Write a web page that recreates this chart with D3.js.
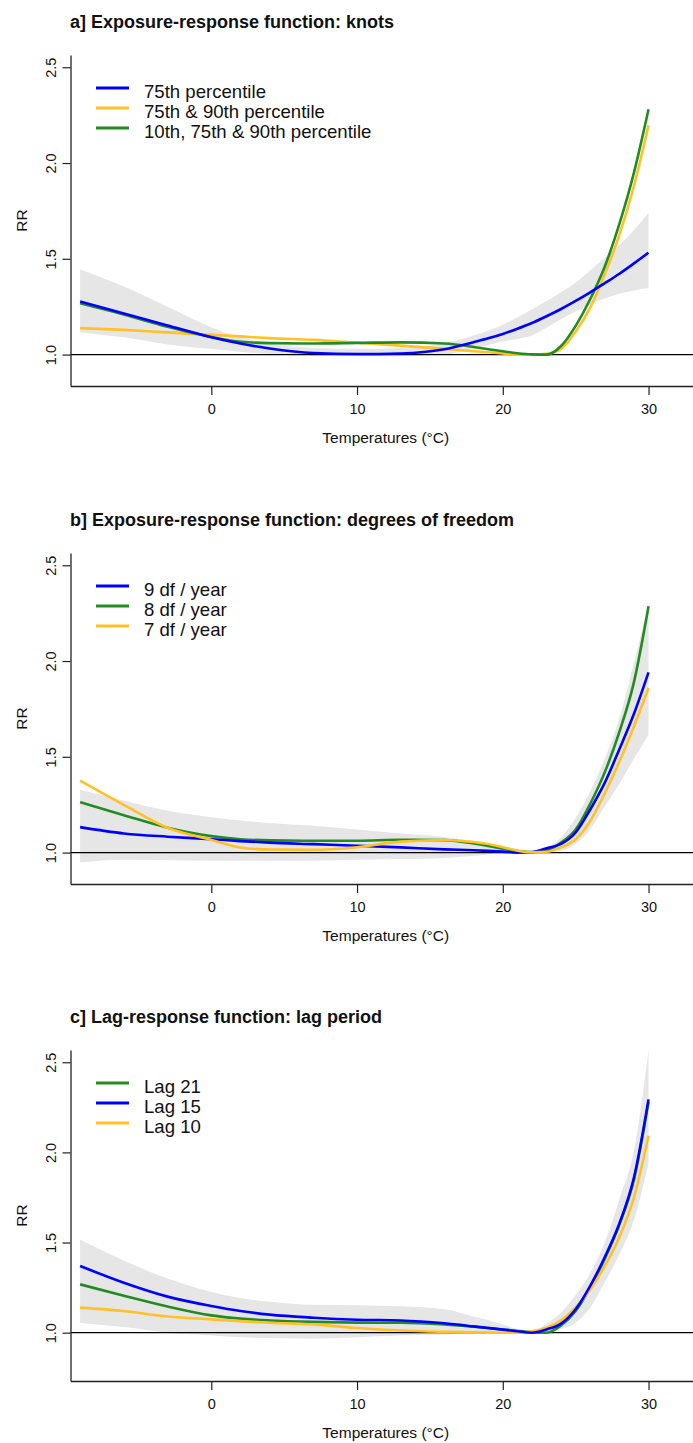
<!DOCTYPE html>
<html>
<head>
  <meta charset="utf-8">
  <script src="https://d3js.org/d3.v7.min.js"></script>
  <style>
    body { margin: 0; background: #fff; }
    svg text { font-family: "Liberation Sans", Arial, sans-serif; fill: #111; }
    .axis .domain { stroke: #222; stroke-width: 1.3; }
    .axis line { stroke: #222; stroke-width: 1.2; }
  </style>
</head>
<body>
<svg id="svg" width="693" height="1443"></svg>
<script>
// ---------- data ----------
const temps = [-9, -6, -3, 0, 2, 4, 7, 10, 13, 16, 18, 19, 20, 21, 22, 23, 24, 25, 26, 27, 28, 29, 30];
const xTicks = [0, 10, 20, 30];
const yTicks = [1.0, 1.5, 2.0, 2.5];

// a] knots
const aBlue75 = [1.277, 1.215, 1.152, 1.091, 1.058, 1.032, 1.008, 1.003, 1.006, 1.028, 1.065, 1.085, 1.108, 1.135, 1.165, 1.2, 1.238, 1.28, 1.325, 1.373, 1.422, 1.476, 1.532];
const aOrange7590 = [1.138, 1.129, 1.116, 1.103, 1.095, 1.086, 1.077, 1.062, 1.047, 1.03, 1.018, 1.012, 1.006, 1.0, 1.0, 1.004, 1.03, 1.12, 1.245, 1.42, 1.625, 1.88, 2.197];
const aGreen107590 = [1.268, 1.209, 1.145, 1.092, 1.067, 1.06, 1.058, 1.061, 1.064, 1.058, 1.04, 1.028, 1.017, 1.007, 1.001, 1.0, 1.045, 1.15, 1.29, 1.46, 1.682, 1.95, 2.281];
const aCiUpper = [1.444, 1.355, 1.25, 1.143, 1.09, 1.055, 1.035, 1.03, 1.035, 1.06, 1.1, 1.125, 1.156, 1.195, 1.236, 1.28, 1.325, 1.375, 1.44, 1.505, 1.572, 1.65, 1.741];
const aCiLower = [1.117, 1.09, 1.053, 1.03, 1.015, 1.004, 0.995, 0.992, 0.993, 1.0, 1.03, 1.05, 1.068, 1.082, 1.1, 1.14, 1.185, 1.225, 1.262, 1.293, 1.318, 1.335, 1.347];

// b] degrees of freedom
const bBlue9df = [1.133, 1.1, 1.083, 1.07, 1.06, 1.052, 1.044, 1.036, 1.027, 1.017, 1.012, 1.009, 1.005, 1.0, 1.003, 1.022, 1.045, 1.105, 1.225, 1.365, 1.54, 1.725, 1.941];
const bGreen8df = [1.263, 1.195, 1.13, 1.086, 1.07, 1.064, 1.062, 1.062, 1.067, 1.065, 1.048, 1.035, 1.02, 1.008, 1.002, 1.012, 1.052, 1.12, 1.255, 1.42, 1.63, 1.89, 2.286];
const bOrange7df = [1.376, 1.249, 1.13, 1.066, 1.027, 1.016, 1.014, 1.028, 1.057, 1.066, 1.055, 1.045, 1.028, 1.01, 1.002, 1.004, 1.027, 1.07, 1.165, 1.31, 1.475, 1.66, 1.859];
const bCiUpper = [1.328, 1.272, 1.218, 1.185, 1.168, 1.155, 1.14, 1.12, 1.1, 1.082, 1.06, 1.045, 1.025, 1.008, 1.003, 1.025, 1.08, 1.18, 1.32, 1.49, 1.7, 1.99, 2.3];
const bCiLower = [0.948, 0.962, 0.96, 0.958, 0.958, 0.958, 0.958, 0.962, 0.966, 0.972, 0.983, 0.99, 0.995, 1.0, 1.0, 1.003, 1.01, 1.045, 1.12, 1.24, 1.36, 1.49, 1.615];

// c] lag period
const cGreenLag21 = [1.268, 1.205, 1.145, 1.096, 1.078, 1.068, 1.06, 1.056, 1.055, 1.045, 1.033, 1.026, 1.018, 1.009, 1.003, 1.0, 1.04, 1.12, 1.25, 1.41, 1.6, 1.85, 2.28];
const cBlueLag15 = [1.37, 1.277, 1.2, 1.148, 1.12, 1.1, 1.083, 1.072, 1.068, 1.052, 1.035, 1.026, 1.017, 1.008, 1.0, 1.018, 1.05, 1.13, 1.26, 1.42, 1.606, 1.86, 2.294];
const cOrangeLag10 = [1.139, 1.12, 1.09, 1.074, 1.064, 1.055, 1.046, 1.026, 1.012, 1.005, 1.002, 1.001, 1.0, 1.0, 1.008, 1.027, 1.068, 1.14, 1.24, 1.37, 1.531, 1.75, 2.092];
const cCiUpper = [1.517, 1.4, 1.3, 1.226, 1.193, 1.172, 1.155, 1.152, 1.146, 1.13, 1.09, 1.07, 1.045, 1.022, 1.01, 1.05, 1.11, 1.21, 1.33, 1.5, 1.74, 2.01, 2.568];
const cCiLower = [1.054, 1.031, 1.0, 0.985, 0.975, 0.97, 0.967, 0.975, 0.985, 0.99, 0.996, 0.998, 1.0, 1.0, 1.0, 1.0, 1.02, 1.055, 1.14, 1.28, 1.435, 1.625, 1.939];

const BLUE = "#0000ff", GREEN = "#228b22", ORANGE = "#ffc125";

const panels = [
  { title: "a] Exposure-response function: knots", top: 55, ylim: [0.9, 2.5],
    ci: [aCiLower, aCiUpper],
    series: [
      { name: "75th percentile", values: aBlue75, color: BLUE },
      { name: "75th & 90th percentile", values: aOrange7590, color: ORANGE },
      { name: "10th, 75th & 90th percentile", values: aGreen107590, color: GREEN }],
    drawOrder: [1, 2, 0] },
  { title: "b] Exposure-response function: degrees of freedom", top: 553, ylim: [0.9, 2.5],
    ci: [bCiLower, bCiUpper],
    series: [
      { name: "9 df / year", values: bBlue9df, color: BLUE },
      { name: "8 df / year", values: bGreen8df, color: GREEN },
      { name: "7 df / year", values: bOrange7df, color: ORANGE }],
    drawOrder: [1, 0, 2] },
  { title: "c] Lag-response function: lag period", top: 1050, ylim: [0.8, 2.5],
    ci: [cCiLower, cCiUpper],
    series: [
      { name: "Lag 21", values: cGreenLag21, color: GREEN },
      { name: "Lag 15", values: cBlueLag15, color: BLUE },
      { name: "Lag 10", values: cOrangeLag10, color: ORANGE }],
    drawOrder: [0, 2, 1] }
];

// ---------- layout ----------
const svg = d3.select("#svg");
const left = 70.5, right = 701, plotH = 331;

// R style: 4% padding around the data range
const pad = (lo, hi) => [lo - 0.04 * (hi - lo), hi + 0.04 * (hi - lo)];

const x = d3.scaleLinear().domain([-9.66, 33.6]).range([left, right]);

panels.forEach(p => {
  const top = p.top, bottom = top + plotH;
  const y = d3.scaleLinear().domain(pad(p.ylim[0], p.ylim[1])).range([bottom, top]);
  const g = svg.append("g");

  // confidence band
  const area = d3.area()
    .x((d, i) => x(temps[i]))
    .y0((d, i) => y(p.ci[0][i]))
    .y1((d, i) => y(p.ci[1][i]))
    .curve(d3.curveMonotoneX);
  g.append("path").datum(temps).attr("d", area).attr("fill", "#e6e6e6");

  // reference line RR = 1
  g.append("line")
    .attr("x1", left).attr("x2", right)
    .attr("y1", y(1)).attr("y2", y(1))
    .attr("stroke", "#000").attr("stroke-width", 1.3);

  // curves
  const line = d3.line()
    .x((d, i) => x(temps[i]))
    .y(d => y(d))
    .curve(d3.curveMonotoneX);
  p.drawOrder.forEach(k => {
    const s = p.series[k];
    g.append("path").datum(s.values)
      .attr("d", line)
      .attr("fill", "none")
      .attr("stroke", s.color)
      .attr("stroke-width", 2.6);
  });

  // axes
  const yAxis = g.append("g").attr("class", "axis")
    .attr("transform", `translate(${left},0)`)
    .call(d3.axisLeft(y).tickValues(yTicks).tickSize(8).tickSizeOuter(0).tickPadding(0).tickFormat(d3.format(".1f")));
  yAxis.selectAll("text").remove();
  yAxis.selectAll(".tick").append("text")
    .attr("transform", "translate(-15,0) rotate(-90)")
    .attr("text-anchor", "middle")
    .style("font-size", "14.5px")
    .style("font-family", "'Liberation Sans', Arial, sans-serif")
    .attr("fill", "#111")
    .text(d => d3.format(".1f")(d));

  const xAxis = g.append("g").attr("class", "axis")
    .attr("transform", `translate(0,${bottom})`)
    .call(d3.axisBottom(x).tickValues(xTicks).tickSize(9).tickSizeOuter(0).tickPadding(9));
  xAxis.selectAll("text")
    .style("font-size", "14.5px")
    .style("font-family", "'Liberation Sans', Arial, sans-serif")
    .attr("fill", "#111");

  // axis titles
  g.append("text")
    .attr("x", (left + right) / 2).attr("y", bottom + 57)
    .attr("text-anchor", "middle")
    .style("font-size", "15.5px")
    .text("Temperatures (°C)");
  g.append("text")
    .attr("transform", `translate(27,${(top + bottom) / 2}) rotate(-90)`)
    .attr("text-anchor", "middle")
    .style("font-size", "15.5px")
    .text("RR");

  // panel title
  g.append("text")
    .attr("x", 70).attr("y", top - 27)
    .style("font-size", "18px").style("font-weight", "bold")
    .text(p.title);

  // legend
  const leg = g.selectAll("g.leg").data(p.series).join("g")
    .attr("class", "leg")
    .attr("transform", (d, i) => `translate(0,${top + 33 + i * 20})`);
  leg.append("line")
    .attr("x1", 96).attr("x2", 129)
    .attr("stroke", d => d.color).attr("stroke-width", 3);
  leg.append("text")
    .attr("x", 144).attr("y", 9.5)
    .style("font-size", "18.6px")
    .text(d => d.name);
});
</script>
</body>
</html>
